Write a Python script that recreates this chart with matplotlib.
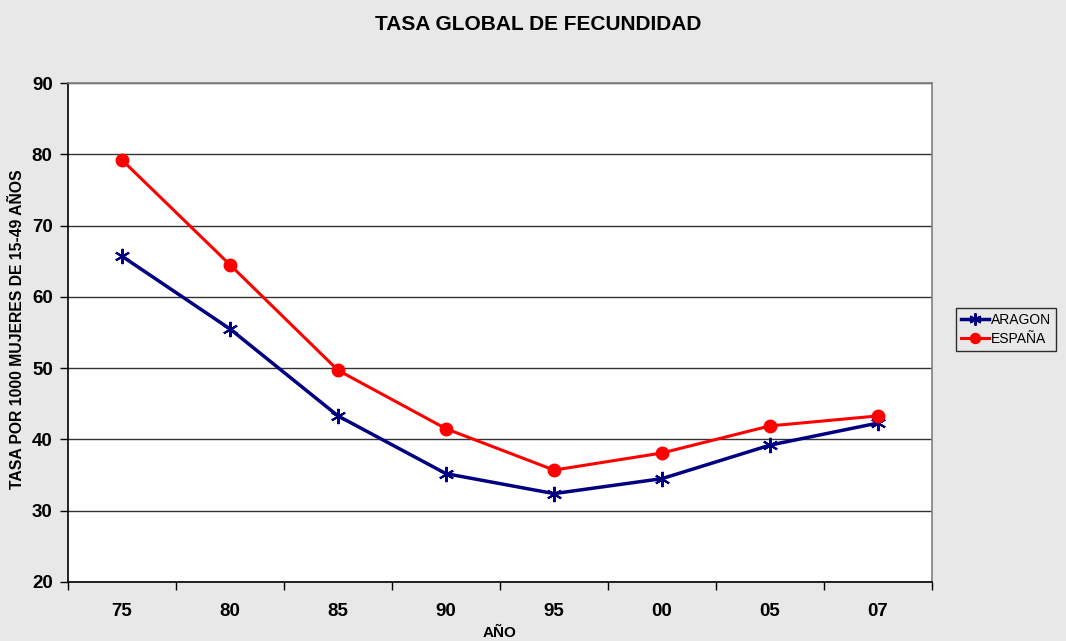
import matplotlib
matplotlib.use("Agg")
import matplotlib.pyplot as plt
import numpy as np

# Data
anios = ["75", "80", "85", "90", "95", "00", "05", "07"]
aragon = [65.7, 55.5, 43.3, 35.2, 32.4, 34.5, 39.2, 42.3]
espana = [79.2, 64.5, 49.7, 41.5, 35.7, 38.1, 41.9, 43.3]

plt.rcParams['font.family'] = ['Liberation Sans', 'DejaVu Sans']

bg = '#e8e8e8'
fig = plt.figure(figsize=(10.66, 6.41), dpi=100, facecolor=bg)
ax = fig.add_axes([68/1066, 1-582/641, (932-68)/1066, (582-83)/641])
ax.set_facecolor('white')

x = np.arange(len(anios))
ax.plot(x, aragon, color='#000080', lw=2.5, marker=(6, 2, 0), ms=11, mew=1.5, label='ARAGON', zorder=3)
ax.plot(x, espana, color='#ff0000', lw=2.2, marker='o', ms=9, label='ESPAÑA', zorder=3)

ax.set_xlim(-0.5, len(anios) - 0.5)
ax.set_ylim(20, 90)
ax.set_yticks(np.arange(20, 91, 10))
ax.yaxis.grid(True, color='#333333', lw=1)
ax.set_axisbelow(True)

# category labels centred, ticks between categories
ax.set_xticks(np.arange(-0.5, len(anios), 1))
ax.set_xticklabels([])
ax.set_xticks(x, minor=True)
ax.set_xticklabels(anios, minor=True)
ax.tick_params(axis='x', which='minor', length=0, pad=15, labelsize=13.5)
ax.tick_params(axis='x', which='major', length=6, width=1, direction='out')
ax.tick_params(axis='y', length=6, width=1, direction='out', labelsize=13.5, pad=5)
for lbl in ax.get_xticklabels(minor=True) + ax.get_yticklabels():
    lbl.set_fontweight('bold')

for s in ['left', 'bottom']:
    ax.spines[s].set_color('black')
    ax.spines[s].set_linewidth(1.2)
for s in ['top', 'right']:
    ax.spines[s].set_color('#808080')
    ax.spines[s].set_linewidth(1.2)

fig.text(500/1066, 1-633/641, 'AÑO', ha='center', va='center', fontsize=11, fontweight='bold')
fig.text(18/1066, 1-329/641, 'TASA POR 1000 MUJERES DE 15-49 AÑOS', ha='center', va='center',
         rotation=90, fontsize=11.3, fontweight='bold')

fig.text(538/1066, 1-25/641, 'TASA GLOBAL DE FECUNDIDAD', ha='center', va='center',
         fontsize=15, fontweight='bold')

leg = ax.legend(loc='upper left', bbox_to_anchor=(956/1066, 1-308/641), bbox_transform=fig.transFigure,
                frameon=True, fancybox=False, fontsize=10, handlelength=2.0, markerscale=0.8,
                borderpad=0.35, labelspacing=0.35, handletextpad=0.15, borderaxespad=0)
leg.get_frame().set_edgecolor('black')
leg.get_frame().set_facecolor(bg)
leg.get_frame().set_linewidth(1)

fig.savefig('out.png', dpi=100, facecolor=bg)
